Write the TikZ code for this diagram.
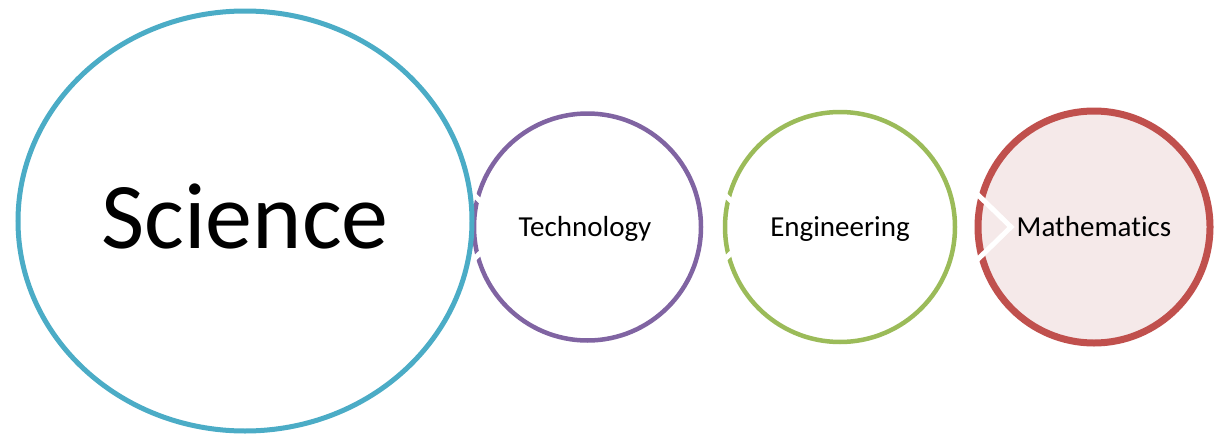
\documentclass[tikz,border=0pt]{standalone}
\usepackage{fontspec}
\setmainfont[Ligatures={NoCommon}]{Carlito}
\usetikzlibrary{shapes.geometric,calc}
\definecolor{sciblue}{HTML}{4BACC6}
\definecolor{techpurple}{HTML}{8064A2}
\definecolor{enggreen}{HTML}{9BBB59}
\definecolor{mathred}{HTML}{C0504D}
\definecolor{mathpink}{HTML}{F5E9E9}
\begin{document}
\begin{tikzpicture}[x=1pt,y=-1pt,
  ring/.style={circle,draw,inner sep=0pt,outer sep=0pt},
  label/.style={anchor=base,inner sep=0pt,font=\fontsize{29}{32}\selectfont},
  chevron/.style={draw=white,line width=5,line join=miter}]
  \useasboundingbox (0,0) rectangle (1221,434);
  % the three smaller circles
  \node[ring,draw=techpurple,line width=4.5,minimum size=227] (tech) at (587.5,227) {};
  \node[ring,draw=enggreen,line width=4.5,minimum size=230] (eng) at (840,227) {};
  \node[ring,draw=mathred,fill=mathpink,line width=7,minimum size=232] (math) at (1094,227) {};
  % white chevrons cutting the left rim of each circle
  \foreach \c in {tech,eng,math}
    \draw[chevron] ($(\c.west)+(-4,-36)$) -- ($(\c.west)+(33,0)$) -- ($(\c.west)+(-4,36)$);
  % the large ellipse
  \node[ellipse,draw=sciblue,fill=white,line width=5,inner sep=0pt,
        minimum width=454,minimum height=420] (sci) at (245,221) {};
  % labels
  \node[anchor=base,inner sep=0pt,font=\fontsize{94}{100}\selectfont] (scitext) at (245,248) {Science};
  \node[label] (techtext) at (585,236) {Technology};
  \node[label] (engtext) at (840,236) {Engineering};
  \node[label] (mathtext) at (1094,236) {Mathematics};
\end{tikzpicture}
\end{document}
